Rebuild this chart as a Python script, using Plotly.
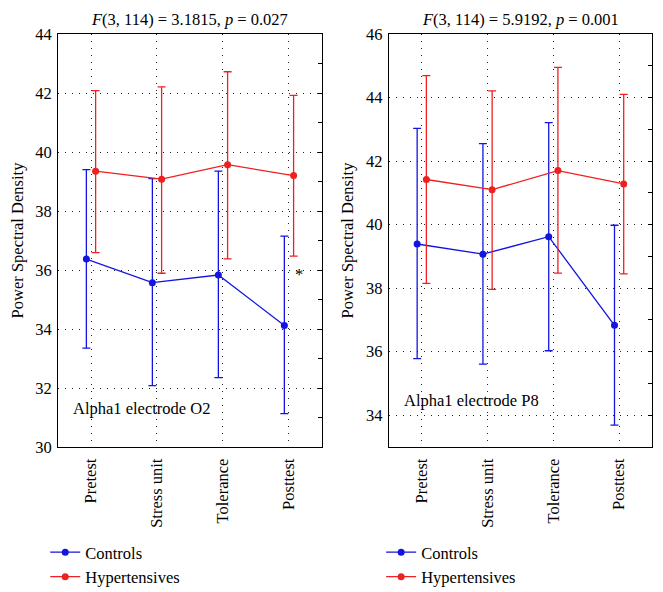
import plotly.graph_objects as go

categories = ["Pretest", "Stress unit", "Tolerance", "Posttest"]

# Left panel: Alpha1 electrode O2
o2_ctrl_mean = [36.37, 35.57, 35.83, 34.12]
o2_ctrl_upper = [39.40, 39.10, 39.35, 37.15]
o2_ctrl_lower = [33.35, 32.08, 32.35, 31.13]
o2_hyp_mean = [39.35, 39.08, 39.57, 39.20]
o2_hyp_upper = [42.08, 42.21, 42.72, 41.92]
o2_hyp_lower = [36.59, 35.89, 36.38, 36.47]

# Right panel: Alpha1 electrode P8
p8_ctrl_mean = [39.39, 39.07, 39.62, 36.83]
p8_ctrl_upper = [43.03, 42.55, 43.21, 39.98]
p8_ctrl_lower = [35.78, 35.61, 36.03, 33.69]
p8_hyp_mean = [41.42, 41.10, 41.70, 41.28]
p8_hyp_upper = [44.69, 44.21, 44.95, 44.10]
p8_hyp_lower = [38.15, 37.96, 38.47, 38.45]

left_ticks = [30, 32, 34, 36, 38, 40, 42, 44]
right_ticks = [34, 36, 38, 40, 42, 44, 46]

BLUE = "#1414e0"
RED = "#ee2020"
FONT = "Liberation Serif"
FS = 16.5
OFF = 0.07

fig = go.Figure()


def add_series(mean, upper, lower, color, name, xa, ya, legend, offset):
    xs = [i + offset for i in range(len(mean))]
    fig.add_trace(go.Scatter(
        x=xs, y=mean, mode="lines+markers", name=name,
        line=dict(color=color, width=1.3),
        marker=dict(color=color, size=7, symbol="circle"),
        error_y=dict(type="data", symmetric=False,
                     array=[u - m for u, m in zip(upper, mean)],
                     arrayminus=[m - l for m, l in zip(mean, lower)],
                     color=color, thickness=1.3, width=4),
        xaxis=xa, yaxis=ya, legend=legend, showlegend=True,
    ))


add_series(o2_ctrl_mean, o2_ctrl_upper, o2_ctrl_lower, BLUE, "Controls", "x", "y", "legend", -OFF)
add_series(o2_hyp_mean, o2_hyp_upper, o2_hyp_lower, RED, "Hypertensives", "x", "y", "legend", OFF)
add_series(p8_ctrl_mean, p8_ctrl_upper, p8_ctrl_lower, BLUE, "Controls", "x2", "y2", "legend2", -OFF)
add_series(p8_hyp_mean, p8_hyp_upper, p8_hyp_lower, RED, "Hypertensives", "x2", "y2", "legend2", OFF)

tickfont = dict(family=FONT, size=FS, color="black")
GRID = dict(showgrid=True, gridcolor="#222", griddash="1px,6px", gridwidth=1)
xcommon = dict(
    range=[-0.5, 3.5], tickmode="array", tickvals=list(range(4)), ticktext=categories,
    tickangle=-90, tickfont=tickfont, showline=True, linecolor="black", linewidth=1,
    mirror=True, ticks="", zeroline=False, ticklabelstandoff=4, **GRID,
)
ycommon = dict(
    showline=True, linecolor="black", linewidth=1, mirror=True,
    tickfont=tickfont, ticks="", zeroline=False, ticklabelstandoff=2,
    title=dict(text="Power Spectral Density", font=dict(family=FONT, size=FS, color="black"), standoff=8),
    **GRID,
)

d1 = [0.0, 0.4444]
d2 = [0.557, 1.0]

legfont = dict(family=FONT, size=FS, color="black")
fig.update_layout(
    width=655, height=584,
    margin=dict(l=50, r=11, t=26, b=145, autoexpand=False),
    paper_bgcolor="white", plot_bgcolor="white",
    font=dict(family=FONT, color="black"),
    xaxis=dict(domain=d1, anchor="y", **xcommon),
    xaxis2=dict(domain=d2, anchor="y2", **xcommon),
    yaxis=dict(domain=[0, 1], anchor="x", range=[30, 44], tickvals=left_ticks, **ycommon),
    yaxis2=dict(domain=[0, 1], anchor="x2", range=[33, 46], tickvals=right_ticks, **ycommon),
    yaxis3=dict(overlaying="y", anchor="x", side="right", range=[30, 44], dtick=1,
                ticks="inside", ticklen=4, tickcolor="black", showticklabels=False,
                showgrid=False, zeroline=False),
    yaxis4=dict(overlaying="y2", anchor="x2", side="right", range=[33, 46], dtick=1,
                ticks="inside", ticklen=4, tickcolor="black", showticklabels=False,
                showgrid=False, zeroline=False),
    legend=dict(x=-0.0215, y=-0.213, xanchor="left", yanchor="top", font=legfont,
                bgcolor="rgba(0,0,0,0)", tracegroupgap=0, itemwidth=30),
    legend2=dict(x=0.544, y=-0.213, xanchor="left", yanchor="top", font=legfont,
                 bgcolor="rgba(0,0,0,0)", tracegroupgap=0, itemwidth=30),
)

# empty traces that carry the inside tick marks on the right edges
fig.add_trace(go.Scatter(x=[None], y=[None], xaxis="x", yaxis="y3", showlegend=False, hoverinfo="skip"))
fig.add_trace(go.Scatter(x=[None], y=[None], xaxis="x2", yaxis="y4", showlegend=False, hoverinfo="skip"))

titlefont = dict(family=FONT, size=FS, color="black")
fig.add_annotation(text="<i>F</i>(3, 114) = 3.1815, <i>p</i> = 0.027", xref="x domain", yref="paper",
                   x=0.5, y=1.0, yshift=3, yanchor="bottom", showarrow=False, font=titlefont)
fig.add_annotation(text="<i>F</i>(3, 114) = 5.9192, <i>p</i> = 0.001", xref="x2 domain", yref="paper",
                   x=0.5, y=1.0, yshift=3, yanchor="bottom", showarrow=False, font=titlefont)
fig.add_annotation(text="Alpha1 electrode O2", xref="x", yref="y", x=-0.3, y=31.3,
                   xanchor="left", showarrow=False, font=titlefont)
fig.add_annotation(text="Alpha1 electrode P8", xref="x2", yref="y2", x=-0.3, y=34.45,
                   xanchor="left", showarrow=False, font=titlefont)
fig.add_annotation(text="*", xref="x", yref="y", x=3.15, y=35.85,
                   showarrow=False, font=dict(family=FONT, size=FS, color="black"))

fig.write_html("out.html")
